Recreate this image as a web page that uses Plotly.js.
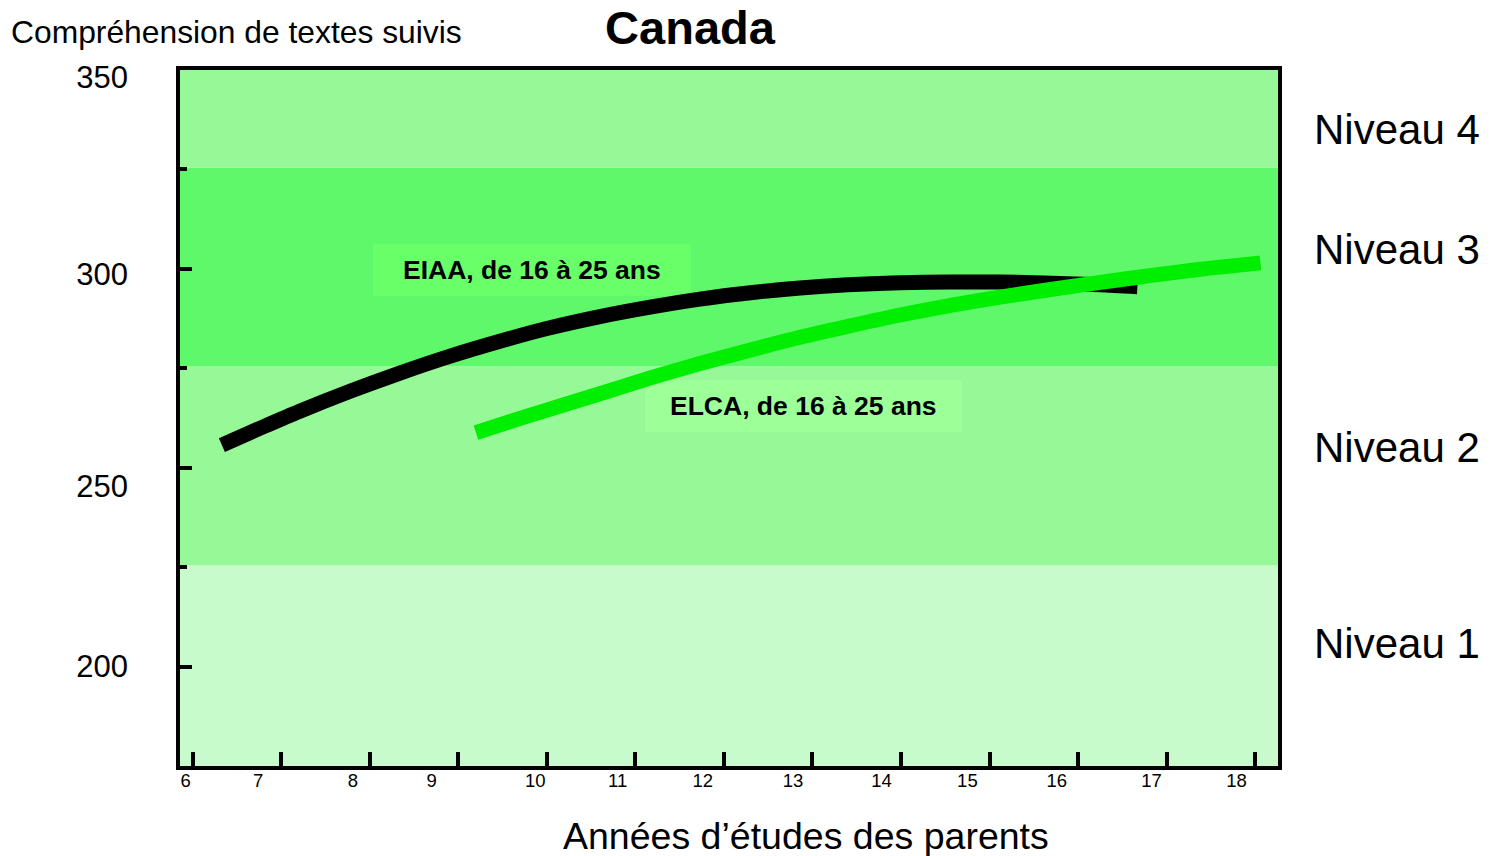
<!DOCTYPE html>
<html>
<head>
<meta charset="utf-8">
<script src="https://cdn.plot.ly/plotly-3.0.1.min.js"></script>
<style>html,body{margin:0;padding:0;background:#fff;}#chart{width:1495px;height:856px;}</style>
</head>
<body>
<div id="chart"></div>
<script>
// ---- data ----
const eiaaYears  = [6.33, 6.8, 7.21, 7.8, 8.34, 8.9, 9.47, 10.0, 10.6, 11.2, 11.73, 12.3, 12.86, 13.4, 13.99, 14.55, 15.12, 15.7, 16.25, 16.67];
const eiaaScores = [255.7, 260.3, 264.2, 269.4, 273.8, 278.0, 281.8, 285.0, 288.0, 290.5, 292.4, 294.0, 295.2, 296.0, 296.5, 296.7, 296.7, 296.4, 296.0, 295.5];
const elcaYears  = [9.2, 9.6, 10.0, 10.6, 11.17, 11.73, 12.3, 12.86, 13.43, 13.99, 14.56, 15.12, 15.69, 16.25, 16.81, 17.38, 18.06];
const elcaScores = [258.8, 261.7, 264.5, 268.6, 272.6, 276.2, 279.6, 282.8, 285.7, 288.4, 290.8, 292.9, 294.8, 296.6, 298.3, 299.9, 301.5];
const levelNames  = ["Niveau 1", "Niveau 2", "Niveau 3", "Niveau 4"];
const levelBounds = [175, 225.5, 275.5, 325.5, 350];
const levelLabelY = [205.8, 255.2, 304.8, 335.0];
const levelColors = ["#c8fbcb", "#97f898", "#5ff86a", "#97f898"];
// tick marks
const xTicks = [6, 7, 8, 9, 10, 11, 12, 13, 14, 15, 16, 17, 18];
const yTicks = [200, 250, 300, 350];
// tick labels, as printed, and where they sit on the value scale in the picture
const xTickLabels = ["6", "7", "8", "9", "10", "11", "12", "13", "14", "15", "16", "17", "18"];
const xLabelAt    = [5.92, 6.74, 7.81, 8.70, 9.87, 10.80, 11.76, 12.78, 13.78, 14.75, 15.76, 16.83, 17.79];
const yTickLabels = ["200", "250", "300", "350"];
const yLabelAt    = [200, 245.3, 298.7, 348.2];
const seriesNames = ["EIAA, de 16 à 25 ans", "ELCA, de 16 à 25 ans"];

const FONT = "Liberation Sans, Arial, sans-serif";

const traces = [
  {x: eiaaYears, y: eiaaScores, mode: "lines", name: seriesNames[0],
   line: {color: "#000000", width: 15, shape: "spline", smoothing: 0.7}, hoverinfo: "skip"},
  {x: elcaYears, y: elcaScores, mode: "lines", name: seriesNames[1],
   line: {color: "#00ee00", width: 15, shape: "spline", smoothing: 0.7}, hoverinfo: "skip"},
  // invisible trace carrying the label axes
  {x: [xTicks[0]], y: [yTicks[0]], xaxis: "x2", yaxis: "y2", mode: "markers",
   marker: {opacity: 0}, hoverinfo: "skip", showlegend: false}
];

const shapes = levelNames.map((n, i) => ({
  type: "rect", xref: "paper", yref: "y", x0: 0, x1: 1,
  y0: levelBounds[i], y1: levelBounds[i + 1],
  fillcolor: levelColors[i], line: {width: 0}, layer: "below"
}));
// label boxes (under the curves)
shapes.push({type: "rect", xref: "x", yref: "y", x0: 8.036, x1: 11.628, y0: 293.2, y1: 306.3,
             fillcolor: "#68ff68", line: {width: 0}, layer: "below"});
shapes.push({type: "rect", xref: "x", yref: "y", x0: 11.108, x1: 14.69, y0: 258.9, y1: 272.0,
             fillcolor: "#9cff98", line: {width: 0}, layer: "below"});

const annotations = [
  {xref: "x", yref: "y", x: 9.832, y: 299.75, text: "<b>" + seriesNames[0] + "</b>", showarrow: false,
   font: {family: FONT, size: 26.5, color: "#000"}, xanchor: "center", yanchor: "middle"},
  {xref: "x", yref: "y", x: 12.9, y: 265.45, text: "<b>" + seriesNames[1] + "</b>", showarrow: false,
   font: {family: FONT, size: 26.5, color: "#000"}, xanchor: "center", yanchor: "middle"},
  {xref: "paper", yref: "paper", x: (9 - 180)/1098, xanchor: "left", y: 1 + (70 - 32)/696, yanchor: "middle",
   text: "Compréhension de textes suivis", showarrow: false, font: {family: FONT, size: 31.8, color: "#000"}},
  {xref: "paper", yref: "paper", x: (806 - 180)/1098, xanchor: "center", y: -(836 - 766)/696, yanchor: "middle",
   text: "Années d’études des parents", showarrow: false, font: {family: FONT, size: 37.5, color: "#000"}}
];
levelNames.forEach((n, i) => annotations.push({
  xref: "paper", yref: "y", x: (1312 - 180)/1098, xanchor: "left", y: levelLabelY[i], yanchor: "middle",
  text: n, showarrow: false, font: {family: FONT, size: 42, color: "#000"}
}));

const layout = {
  width: 1495, height: 856,
  margin: {l: 180, r: 217, t: 70, b: 90},
  paper_bgcolor: "#ffffff", plot_bgcolor: "#ffffff",
  showlegend: false,
  title: {text: "<b>Canada</b>", xref: "container", yref: "container", x: 690/1495, xanchor: "center",
          y: 1 - 28/856, yanchor: "middle", font: {family: FONT, size: 47, color: "#000"}},
  xaxis: {range: [5.857, 18.258], tickvals: xTicks, showticklabels: false,
          ticks: "inside", ticklen: 14, tickwidth: 4, tickcolor: "#000",
          showline: true, linewidth: 4, linecolor: "#000", mirror: true,
          showgrid: false, zeroline: false},
  yaxis: {range: [175, 350], tickvals: yTicks, showticklabels: false,
          ticks: "inside", ticklen: 12, tickwidth: 4, tickcolor: "#000",
          minor: {dtick: 25, tick0: 0, ticks: "inside", ticklen: 7, tickwidth: 4, tickcolor: "#000"},
          showline: true, linewidth: 4, linecolor: "#000", mirror: true,
          showgrid: false, zeroline: false},
  xaxis2: {overlaying: "x", anchor: "y2", side: "bottom", range: [5.857, 18.258],
           tickvals: xLabelAt, ticktext: xTickLabels, ticks: "", showline: false,
           showgrid: false, zeroline: false, ticklabelstandoff: 1,
           tickfont: {family: FONT, size: 18.5, color: "#000"}},
  yaxis2: {overlaying: "y", anchor: "x2", side: "left", range: [175, 350],
           tickvals: yLabelAt, ticktext: yTickLabels, ticks: "", showline: false,
           showgrid: false, zeroline: false, ticklabelstandoff: 51,
           tickfont: {family: FONT, size: 31, color: "#000"}},
  shapes: shapes,
  annotations: annotations
};

Plotly.newPlot("chart", traces, layout, {staticPlot: true, displayModeBar: false});
</script>
</body>
</html>
